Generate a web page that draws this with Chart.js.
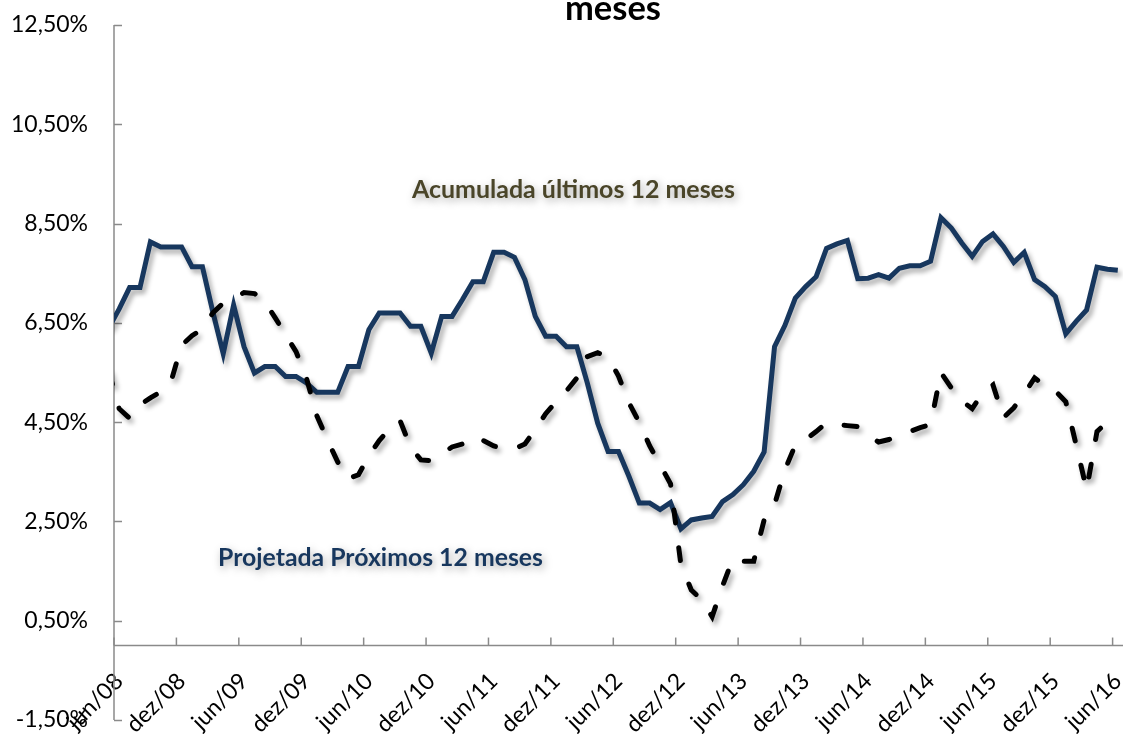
<!DOCTYPE html>
<html>
<head>
<meta charset="utf-8">
<script src="https://cdn.jsdelivr.net/npm/chart.js@4.4.1/dist/chart.umd.min.js"></script>
<style>
  html, body { margin: 0; padding: 0; background: #ffffff; }
  #wrap { width: 1123px; height: 734px; position: relative; }
</style>
</head>
<body>
<div id="wrap"><canvas id="c" width="1123" height="734"></canvas></div>
<script>
// ---- categories (monthly, mai/08 .. jun/16; mai/08 lies just left of the axis) ----
const monthNames = ['jan','fev','mar','abr','mai','jun','jul','ago','set','out','nov','dez'];
const firstMonth = { year: 2008, month: 4 };   // mai/08
const monthCount = 98;
const categories = [];
for (let i = 0; i < monthCount; i++) {
  const m = (firstMonth.month + i) % 12;
  const yy = firstMonth.year + Math.floor((firstMonth.month + i) / 12);
  categories.push(monthNames[m] + '/' + String(yy).slice(2));
}
const firstShownCategory = 'jun/08';
const labelEvery = 6;

// ---- series values (% a.a.) ----
const acumulada12m = [
  6.40, 6.78, 7.21, 7.21, 8.13, 8.03, 8.03, 8.03, 7.63, 7.63,
  6.72, 5.88, 6.86, 6.02, 5.49, 5.62, 5.62, 5.42, 5.42, 5.29,
  5.10, 5.10, 5.10, 5.62, 5.62, 6.36, 6.70, 6.70, 6.70, 6.43,
  6.43, 5.89, 6.63, 6.63, 6.97, 7.33, 7.33, 7.92, 7.92, 7.82,
  7.37, 6.63, 6.23, 6.23, 6.02, 6.02, 5.29, 4.48, 3.91, 3.91,
  3.41, 2.87, 2.87, 2.74, 2.88, 2.35, 2.53, 2.57, 2.60, 2.90,
  3.04, 3.24, 3.51, 3.90, 6.02, 6.45, 7.00, 7.23, 7.43, 8.00,
  8.09, 8.16, 7.39, 7.40, 7.47, 7.40, 7.60, 7.65, 7.65, 7.74,
  8.62, 8.41, 8.11, 7.84, 8.14, 8.29, 8.04, 7.72, 7.92, 7.37,
  7.23, 7.03, 6.28, 6.53, 6.76, 7.62, 7.58, 7.56
];
const projetada12m = [
  5.52, 4.77, 4.58, 4.85, 4.99, 5.11, 5.33, 6.05, 6.24, 6.38,
  6.70, 6.90, 6.99, 7.11, 7.09, 6.93, 6.60, 6.26, 5.92, 5.39,
  4.63, 4.15, 3.70, 3.36, 3.44, 3.82, 4.13, 4.37, 4.53, 4.00,
  3.74, 3.72, 3.86, 4.00, 4.06, 3.98, 4.13, 4.02, 3.96, 3.96,
  4.06, 4.35, 4.67, 4.91, 5.13, 5.39, 5.82, 5.90, 5.80, 5.43,
  4.89, 4.49, 4.02, 3.64, 3.26, 1.63, 1.12, 0.92, 0.58, 1.20,
  1.75, 1.70, 1.70, 2.53, 2.84, 3.54, 4.04, 4.15, 4.31, 4.49,
  4.45, 4.43, 4.41, 4.24, 4.10, 4.15, 4.23, 4.31, 4.39, 4.45,
  5.50, 5.19, 4.93, 4.77, 5.09, 5.25, 4.59, 4.79, 5.07, 5.39,
  5.23, 5.13, 4.91, 4.04, 3.14, 4.31, 4.51, 4.59
];

// ---- value axis ----
const yMin = -1.5, yMax = 12.5, yStep = 2;
const axisCrossValue = 0;

// ---- texts ----
const titleText = 'meses';
const labelAcumulada = 'Acumulada últimos 12 meses';
const labelProjetada = 'Projetada Próximos 12 meses';

const FONT = 'Lato, "Open Sans", "DejaVu Sans", sans-serif';
const AXIS_COLOR = '#8a8a8a';

const fmtPct = v => v.toFixed(2).replace('.', ',') + '%';

const axesPlugin = {
  id: 'axesDraw',
  beforeDatasetsDraw(chart) {
    const { ctx, chartArea, scales: { x, y } } = chart;
    ctx.save();
    ctx.strokeStyle = AXIS_COLOR;
    ctx.lineWidth = 1.5;
    const ax = chartArea.left;
    ctx.beginPath(); ctx.moveTo(ax, chartArea.top); ctx.lineTo(ax, chartArea.bottom); ctx.stroke();
    y.ticks.forEach(t => {
      const py = Math.round(y.getPixelForValue(t.value)) + 0.5;
      ctx.beginPath(); ctx.moveTo(ax, py); ctx.lineTo(ax + 8, py); ctx.stroke();
    });
    const ay = y.getPixelForValue(axisCrossValue);
    ctx.beginPath(); ctx.moveTo(chartArea.left, ay); ctx.lineTo(chartArea.right, ay); ctx.stroke();
    const half = (x.getPixelForValue(2) - x.getPixelForValue(1)) / 2;
    const start = categories.indexOf(firstShownCategory);
    x.ticks.forEach(t => {
      if ((t.value - start) % labelEvery === 0) {
        const px = x.getPixelForValue(t.value) - half;
        ctx.beginPath(); ctx.moveTo(px, ay); ctx.lineTo(px, ay - 8); ctx.stroke();
      }
    });
    ctx.restore();
  }
};

const shadowPlugin = {
  id: 'lineShadow',
  beforeDatasetDraw(chart) {
    const ctx = chart.ctx;
    ctx.save();
    ctx.shadowColor = 'rgba(0,0,0,0.33)';
    ctx.shadowBlur = 5;
    ctx.shadowOffsetX = 3;
    ctx.shadowOffsetY = 4;
  },
  afterDatasetDraw(chart) { chart.ctx.restore(); }
};

function fitText(ctx, text, weight, targetW, baseSize) {
  ctx.font = weight + ' ' + baseSize + 'px ' + FONT;
  const w = ctx.measureText(text).width;
  const size = baseSize * targetW / w;
  ctx.font = weight + ' ' + size.toFixed(2) + 'px ' + FONT;
}

const textPlugin = {
  id: 'texts',
  afterDraw(chart) {
    const ctx = chart.ctx;
    ctx.save();
    ctx.textAlign = 'left';
    ctx.textBaseline = 'alphabetic';
    // title (cut off at the top)
    fitText(ctx, titleText, 'bold', 96, 34);
    ctx.fillStyle = '#000000';
    ctx.fillText(titleText, 565, 20);
    // annotations with soft shadow
    ctx.shadowColor = 'rgba(0,0,0,0.35)';
    ctx.shadowBlur = 8;
    ctx.shadowOffsetX = 2;
    ctx.shadowOffsetY = 3;
    fitText(ctx, labelAcumulada, 'bold', 323, 24);
    ctx.fillStyle = '#4A4529';
    ctx.fillText(labelAcumulada, 412, 198);
    fitText(ctx, labelProjetada, 'bold', 325, 24);
    ctx.fillStyle = '#17375E';
    ctx.fillText(labelProjetada, 218, 566);
    ctx.restore();
  }
};

new Chart(document.getElementById('c'), {
  type: 'line',
  data: {
    labels: categories,
    datasets: [
      {
        label: labelProjetada,
        data: projetada12m,
        borderColor: '#000000',
        borderWidth: 5,
        borderDash: [13, 25],
        borderCapStyle: 'round',
        pointRadius: 0,
        tension: 0,
        fill: false,
        clip: 0,
        order: 0
      },
      {
        label: labelAcumulada,
        data: acumulada12m,
        borderColor: '#17375E',
        borderWidth: 5,
        borderJoinStyle: 'miter',
        pointRadius: 0,
        tension: 0,
        fill: false,
        clip: 0,
        order: 1
      }
    ]
  },
  options: {
    responsive: false,
    animation: false,
    devicePixelRatio: 1,
    layout: { padding: { top: 25, bottom: 14, left: 0, right: 0 } },
    plugins: { legend: { display: false }, tooltip: { enabled: false }, title: { display: false } },
    scales: {
      x: {
        type: 'category',
        min: firstShownCategory,
        offset: true,
        position: { y: axisCrossValue },
        grid: { display: false, drawTicks: false },
        border: { display: false },
        ticks: {
          autoSkip: false,
          minRotation: 45,
          maxRotation: 45,
          padding: 22,
          color: '#000000',
          font: { family: FONT, size: 23 },
          callback: function (value) {
            const start = categories.indexOf(firstShownCategory);
            return (value - start) % labelEvery === 0 ? this.getLabelForValue(value) : '';
          }
        },
        afterFit(scale) {
          scale.height = 0;
          scale.paddingLeft = 0; scale.paddingRight = 0;
          scale.paddingTop = 0; scale.paddingBottom = 0;
        }
      },
      y: {
        type: 'linear',
        min: yMin,
        max: yMax,
        grid: { display: false, drawTicks: false },
        border: { display: false },
        ticks: {
          stepSize: yStep,
          padding: 26,
          color: '#000000',
          font: { family: FONT, size: 23 },
          callback: v => fmtPct(v)
        },
        afterFit(scale) {
          scale.width = 114;
          scale.paddingTop = 0; scale.paddingBottom = 0;
        }
      }
    }
  },
  plugins: [axesPlugin, shadowPlugin, textPlugin]
});
</script>
</body>
</html>
